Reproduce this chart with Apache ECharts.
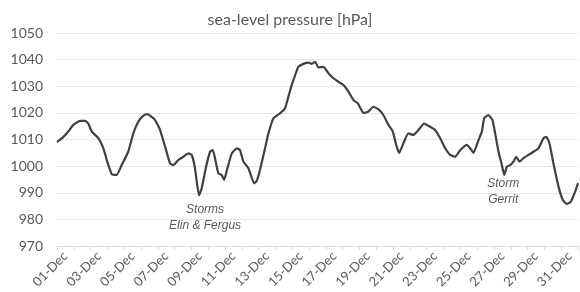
<!DOCTYPE html>
<html>
<head>
<meta charset="utf-8">
<script src="https://cdn.jsdelivr.net/npm/echarts@6/dist/echarts.min.js"></script>
<style>
  html, body { margin: 0; padding: 0; background: #fff; }
  #chart { width: 580px; height: 292px; }
</style>
</head>
<body>
<div id="chart"></div>
<script>
// date labels along the x axis (one band per day)
const dates = []
for (let i = 1; i <= 31; i++) dates.push((i < 10 ? '0' + i : '' + i) + '-Dec')

// time in days since 01-Dec 00:00
const days = [
  0, 0.38, 0.67, 0.97, 1.37, 1.67, 1.86, 2.07, 2.46, 2.76, 2.99, 3.26, 3.55, 3.85, 4.24, 4.54,
  4.84, 5.14, 5.38, 5.73, 5.83, 6.13, 6.43, 6.73, 6.92, 7.22, 7.52, 7.82, 8.02, 8.21, 8.45, 8.61,
  8.87, 9.11, 9.27, 9.40, 9.60, 9.80, 9.94, 10.14, 10.40, 10.70, 10.89, 11.09, 11.39, 11.73, 11.89,
  12.08, 12.38, 12.58, 12.88, 13.27, 13.57, 13.77, 13.97, 14.17, 14.36, 14.66, 14.96, 15.16, 15.36,
  15.55, 15.85, 16.15, 16.45, 16.74, 17.04, 17.34, 17.64, 17.9, 18.23, 18.53, 18.83, 19.13, 19.42,
  19.72, 19.98, 20.18, 20.36, 20.61, 20.91, 21.21, 21.51, 21.85, 22.20, 22.50, 22.80, 23.10, 23.39,
  23.69, 23.99, 24.39, 24.58, 24.78, 25.08, 25.28, 25.42, 25.67, 25.91, 26.07, 26.27, 26.47, 26.61,
  26.77, 26.96, 27.16, 27.32, 27.52, 27.76, 28.05, 28.35, 28.65, 28.95, 29.11, 29.30, 29.54, 29.84,
  30.10, 30.34, 30.58, 30.83, 31.0
]
// sea-level pressure [hPa]
const pressure = [
  1009, 1011, 1013, 1015.5, 1017, 1017, 1016, 1013, 1010.5, 1006.7, 1001.7, 997, 996.7, 1000.4, 1005.4, 1012.3,
  1016.7, 1019, 1019.5, 1018, 1017.3, 1013.6, 1007.3, 1001, 1000.4, 1002.3, 1003.5, 1004.8, 1004.2, 999.2, 989, 991.7,
  999.8, 1005.4, 1006, 1003, 997.3, 996.7, 994.8, 999.2, 1004.8, 1006.7, 1006, 1001.7, 999.2, 993.5, 994.5,
  998.6, 1006.7, 1012.3, 1018, 1019.8, 1021.7, 1026.1, 1030.5, 1034.2, 1037.3, 1038.4, 1038.9, 1038.4, 1039.2,
  1037.1, 1037.3, 1034.9, 1033, 1031.7, 1030.5, 1028, 1024.8, 1023.6, 1020, 1020.5, 1022.3, 1021.3, 1019.2,
  1015.5, 1013, 1008, 1005, 1008.6, 1012.3, 1011.7, 1013.6, 1016, 1014.8, 1013.6, 1010.5, 1006.7, 1004.2,
  1003.5, 1006, 1008, 1006.7, 1005, 1009.8, 1013, 1018, 1019.2, 1017.3, 1012.3, 1005.4, 1000.4, 996.7,
  999.8, 1000.4, 1001.7, 1003.5, 1001.7, 1003, 1004.2, 1005.4, 1006.7, 1010.5, 1011, 1008.6, 1001, 992.3,
  987.3, 985.8, 986.7, 990.4, 993.6
]
const yTicks = { min: 970, max: 1050, step: 10 }

const series = days.map((d, i) => [d, pressure[i]])

const myChart = echarts.init(document.getElementById('chart'))
const option = {
  animation: false,
  title: {
    text: 'sea-level pressure [hPa]',
    left: 'center',
    top: 7,
    textStyle: { fontFamily: 'Lato', fontSize: 16, fontWeight: 'normal', color: '#595959' }
  },
  grid: { left: 57, right: 2, top: 33, bottom: 46 },
  xAxis: [
    {
      type: 'category',
      data: dates,
      boundaryGap: true,
      axisLine: { lineStyle: { color: '#d9d9d9' } },
      axisTick: { show: true, interval: 0, length: 4, lineStyle: { color: '#d9d9d9' } },
      axisLabel: {
        interval: 1,
        rotate: 45,
        margin: 8,
        fontFamily: 'Lato',
        fontSize: 13,
        color: '#595959'
      },
      splitLine: { show: false }
    },
    {
      type: 'value',
      min: 0,
      max: 31,
      show: false
    }
  ],
  yAxis: {
    type: 'value',
    min: yTicks.min,
    max: yTicks.max,
    interval: yTicks.step,
    axisLine: { show: false },
    axisTick: { show: false },
    axisLabel: {
      fontFamily: 'Lato',
      fontSize: 14,
      color: '#595959',
      margin: 14,
      formatter: v => String(v)
    },
    splitLine: { lineStyle: { color: '#e6e6e6' } }
  },
  series: [
    {
      type: 'line',
      xAxisIndex: 1,
      data: series,
      showSymbol: false,
      smooth: 0.15,
      lineStyle: { color: '#404040', width: 2.2 },
      markPoint: {
        symbol: 'circle',
        symbolSize: 0,
        label: {
          show: true,
          position: 'inside',
          fontFamily: 'Liberation Sans',
          fontStyle: 'italic',
          fontSize: 12,
          lineHeight: 16,
          color: '#595959'
        },
        data: [
          { coord: [8.81, 980.7], value: 'Storms\nElin & Fergus', label: { formatter: 'Storms\nElin & Fergus' } },
          { coord: [26.55, 990.5], value: 'Storm\nGerrit', label: { formatter: 'Storm\nGerrit' } }
        ]
      }
    }
  ]
}
myChart.setOption(option)
</script>
</body>
</html>
